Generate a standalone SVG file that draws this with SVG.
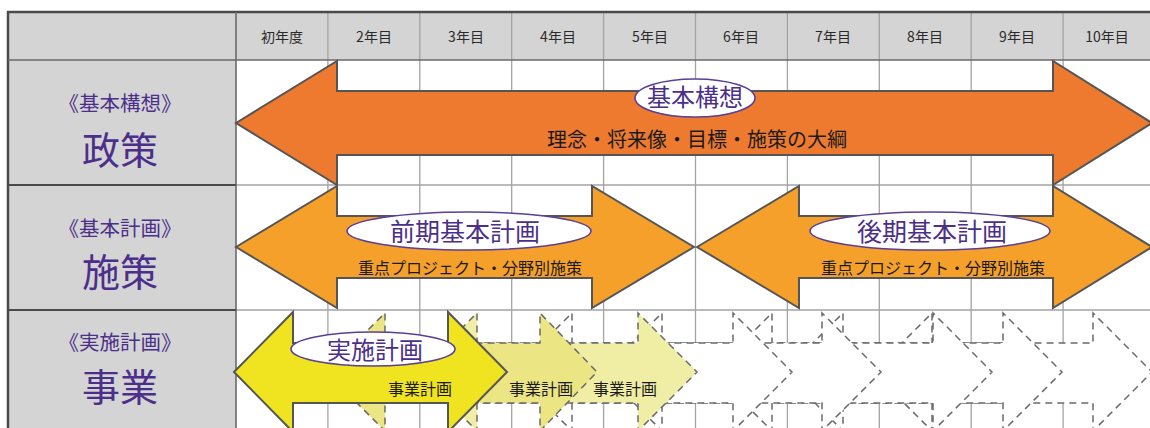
<svg xmlns="http://www.w3.org/2000/svg" width="1150" height="428" viewBox="0 0 1150 428">
<style>
.jp{font-family:"Noto Sans CJK JP","Noto Sans CJK SC",sans-serif}
.hd{font-size:14px;fill:#2a2a2a;text-anchor:middle}
.lab{font-size:20.5px;fill:#4b2f8a;text-anchor:middle}
.big{font-size:38px;fill:#4b2f8a;text-anchor:middle}
.ell{fill:#fff;stroke:#5a3f96;stroke-width:1.6}
.et{fill:#4b2f8a;text-anchor:middle}
.bt{fill:#1a1a1a;text-anchor:middle}
.arrow{stroke:#555;stroke-width:2;stroke-linejoin:miter}
.dash{stroke:#6a6a6a;stroke-width:1.5;stroke-dasharray:7 5;fill:#fff}
.grid{stroke:#a3a3a3;stroke-width:1.3;fill:none}
.frame{stroke:#4a4a4a;stroke-width:2;fill:none}
</style>
<rect x="0" y="0" width="1150" height="428" fill="#fff"/>
<g id="table">
  <rect x="8" y="12" width="1150" height="48" fill="#d4d4d4"/>
  <rect x="8" y="60" width="228" height="380" fill="#d4d4d4"/>
  <g class="grid">
    <line x1="327.9" y1="12" x2="327.9" y2="428"/>
    <line x1="419.8" y1="12" x2="419.8" y2="428"/>
    <line x1="511.7" y1="12" x2="511.7" y2="428"/>
    <line x1="603.6" y1="12" x2="603.6" y2="428"/>
    <line x1="695.5" y1="12" x2="695.5" y2="428"/>
    <line x1="787.4" y1="12" x2="787.4" y2="428"/>
    <line x1="879.3" y1="12" x2="879.3" y2="428"/>
    <line x1="971.2" y1="12" x2="971.2" y2="428"/>
    <line x1="1063.1" y1="12" x2="1063.1" y2="428"/>
    <line x1="236" y1="185" x2="1150" y2="185"/>
    <line x1="236" y1="310" x2="1150" y2="310"/>
  </g>
  <g class="frame">
    <line x1="7" y1="12" x2="1150" y2="12" stroke-width="2.5"/>
    <line x1="8" y1="11" x2="8" y2="428" stroke-width="2.5"/>
    <line x1="8" y1="60" x2="1150" y2="60" stroke="#6a6a6a" stroke-width="1.6"/>
    <line x1="236" y1="12" x2="236" y2="428" stroke="#6a6a6a" stroke-width="1.6"/>
    <line x1="8" y1="185" x2="236" y2="185"/>
    <line x1="8" y1="310" x2="236" y2="310"/>
  </g>
</g>
<g id="header" class="jp hd">
  <text x="282" y="42">初年度</text>
  <text x="374" y="42">2年目</text>
  <text x="466" y="42">3年目</text>
  <text x="558" y="42">4年目</text>
  <text x="650" y="42">5年目</text>
  <text x="741" y="42">6年目</text>
  <text x="833" y="42">7年目</text>
  <text x="925" y="42">8年目</text>
  <text x="1017" y="42">9年目</text>
  <text x="1107" y="42">10年目</text>
</g>
<g id="row-labels" class="jp">
  <g id="label-seisaku">
    <text class="lab" x="120" y="111">《基本構想》</text>
    <text class="big" x="120" y="164">政策</text>
  </g>
  <g id="label-shisaku">
    <text class="lab" x="120" y="236">《基本計画》</text>
    <text class="big" x="120" y="286">施策</text>
  </g>
  <g id="label-jigyo">
    <text class="lab" x="120" y="350">《実施計画》</text>
    <text class="big" x="120" y="401">事業</text>
  </g>
</g>
<g id="connectors">
  <g id="kihon-koso">
    <polygon class="arrow" fill="#ed7a2f" points="236,123 337,61 337,91 1053,91 1053,61 1152,123 1053,185 1053,155 337,155 337,185"/>
    <ellipse class="ell" cx="695" cy="98" rx="60" ry="19"/>
    <text class="jp et" x="695" y="106" font-size="24">基本構想</text>
    <text class="jp bt" x="697" y="147" font-size="20">理念・将来像・目標・施策の大綱</text>
  </g>
  <g id="zenki">
    <polygon class="arrow" fill="#f5a02a" points="236,247 337,186 337,216 592,216 592,186 694,247 592,308 592,278 337,278 337,308"/>
    <ellipse class="ell" cx="469" cy="231" rx="122" ry="19"/>
    <text class="jp et" x="465" y="241" font-size="25">前期基本計画</text>
    <text class="jp bt" x="470" y="274" font-size="16">重点プロジェクト・分野別施策</text>
  </g>
  <g id="koki">
    <polygon class="arrow" fill="#f5a02a" points="697,247 799,186 799,216 1053,216 1053,186 1152,247 1053,308 1053,278 799,278 799,308"/>
    <ellipse class="ell" cx="930" cy="231" rx="120" ry="19"/>
    <text class="jp et" x="932" y="241" font-size="25">後期基本計画</text>
    <text class="jp bt" x="933" y="274" font-size="16">重点プロジェクト・分野別施策</text>
  </g>
  <g id="jigyo-arrows">
    <polygon class="dash" points="873,372 932,313 932,343 1093,343 1093,313 1152,372 1093,431 1093,403 932,403 932,431"/>
    <polygon class="dash" points="784,372 843,313 843,343 1003,343 1003,313 1062,372 1003,431 1003,403 843,403 843,431"/>
    <polygon class="dash" points="713,372 772,313 772,343 933,343 933,313 992,372 933,431 933,403 772,403 772,431"/>
    <polygon class="dash" points="603,372 662,313 662,343 822,343 822,313 881,372 822,431 822,403 662,403 662,431"/>
    <polygon class="dash" points="513,372 572,313 572,343 733,343 733,313 792,372 733,431 733,403 572,403 572,431"/>
    <polygon class="dash" style="fill:#f0eea4" points="418,372 477,313 477,343 638,343 638,313 697,372 638,431 638,403 477,403 477,431"/>
    <polygon class="dash" style="fill:#ebe583" points="326,372 385,313 385,343 540,343 540,313 597,372 540,431 540,403 385,403 385,431"/>
  </g>
  <g id="jisshi">
    <polygon class="arrow" fill="#f0e31f" points="234,372 293,312 293,343 448,343 448,312 507,372 448,432 448,403 293,403 293,432"/>
    <ellipse class="ell" cx="373" cy="349" rx="82" ry="17"/>
    <text class="jp et" x="375" y="359" font-size="24">実施計画</text>
  </g>
  <g id="jigyo-labels" class="jp bt" font-size="16">
    <text x="420" y="395">事業計画</text>
    <text x="541" y="395">事業計画</text>
    <text x="625" y="395">事業計画</text>
  </g>
</g>
</svg>
